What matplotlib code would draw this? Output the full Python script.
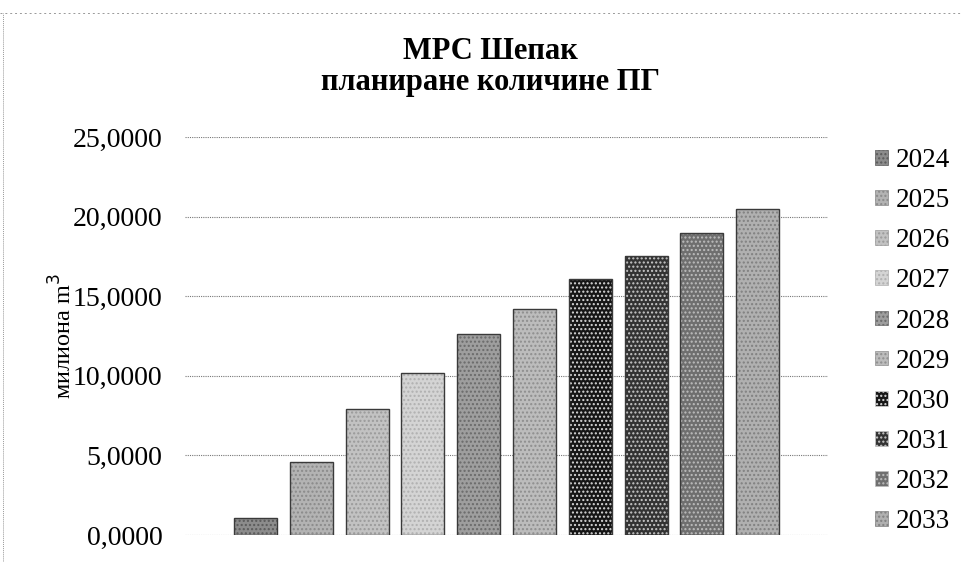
import matplotlib
matplotlib.use("Agg")
import matplotlib.pyplot as plt
from matplotlib.patches import Patch
from matplotlib.lines import Line2D
import matplotlib.ticker as ticker

# --- data ---
years = ["2024", "2025", "2026", "2027", "2028", "2029", "2030", "2031", "2032", "2033"]
volumes = [1.1, 4.6, 7.9, 10.2, 12.6, 14.2, 16.1, 17.5, 18.95, 20.5]

# grey tones imitating the scanned textures
fills = ["#8c8c8c", "#b3b3b3", "#c2c2c2", "#d4d4d4", "#9e9e9e",
         "#bcbcbc", "#161616", "#333333", "#6f6f6f", "#b0b0b0"]
dots = ["#5a5a5a", "#8a8a8a", "#9a9a9a", "#b0b0b0", "#6a6a6a",
        "#8e8e8e", "#d8d8d8", "#c8c8c8", "#bdbdbd", "#808080"]

plt.rcParams["font.family"] = ["Liberation Serif", "DejaVu Serif"]

fig = plt.figure(figsize=(9.63, 5.62), dpi=100)
ax = fig.add_axes([0.192, 0.048, 0.668, 0.708])

width = 0.77
for i, (yr, v) in enumerate(zip(years, volumes)):
    ax.bar(i, v, width=width, color=fills[i], edgecolor=dots[i], hatch="....",
           linewidth=0, zorder=3)
    ax.bar(i, v, width=width, fill=False, edgecolor="#3a3a3a", linewidth=1.0, zorder=4)

ax.set_xlim(-1.264, 10.264)
ax.set_ylim(0, 25)
ax.set_yticks([0, 5, 10, 15, 20, 25])
ax.yaxis.set_major_formatter(ticker.FuncFormatter(lambda x, _: f"{x:.4f}".replace(".", ",")))
ax.tick_params(axis="y", length=0, labelsize=20, pad=16)
ax.set_xticks([])
for s in ax.spines.values():
    s.set_visible(False)
ax.grid(True, axis="y", color="#777777", linestyle=(0, (1, 1)), linewidth=0.8, zorder=0)

ax.set_ylabel("милиона m$^3$", fontsize=17.5, labelpad=-2.5)

fig.text(0.509, 0.909, "МРС Шепак", ha="center", va="center", fontsize=22, fontweight="bold")
fig.text(0.509, 0.854, "планиране количине ПГ", ha="center", va="center",
         fontsize=22, fontweight="bold")

handles = [Patch(facecolor=fills[i], edgecolor=dots[i], hatch="....", linewidth=0.5)
           for i in range(len(years))]
fig.legend(handles, years, loc="center left", bbox_to_anchor=(0.909, 0.393),
           frameon=False, fontsize=19.5, handlelength=0.45, handleheight=0.45,
           handletextpad=0.3, labelspacing=0.56, borderpad=0, borderaxespad=0)

# faint edges of the scanned page
fig.add_artist(Line2D([0.0, 1.0], [0.977, 0.977], color="#999999", linestyle=(0, (2, 3)),
                      linewidth=0.7, transform=fig.transFigure))
fig.add_artist(Line2D([0.003, 0.003], [0.0, 0.977], color="#999999", linestyle=(0, (1, 1)),
                      linewidth=0.7, transform=fig.transFigure))

fig.savefig("out.png", dpi=100)
